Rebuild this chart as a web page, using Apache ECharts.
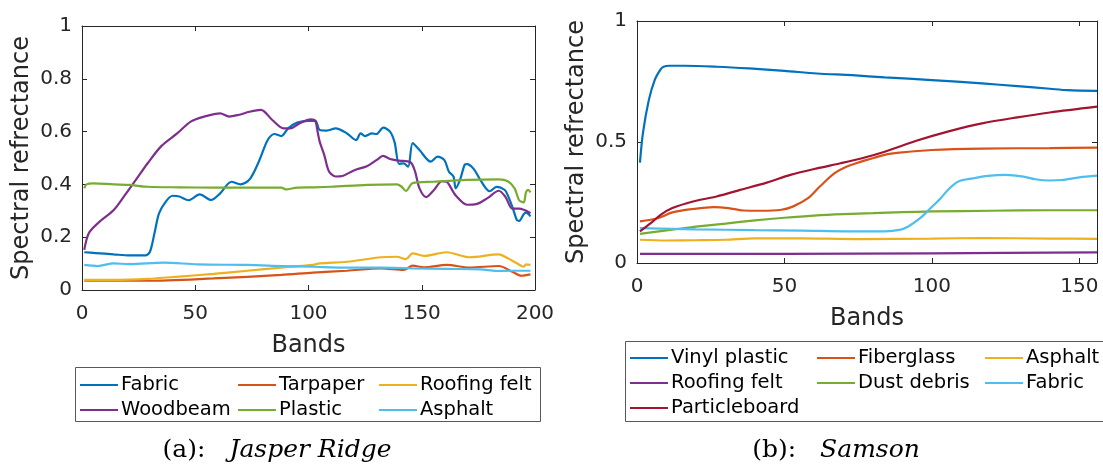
<!DOCTYPE html>
<html>
<head>
<meta charset="utf-8">
<script src="https://cdn.jsdelivr.net/npm/echarts@6/dist/echarts.min.js"></script>
<style>
  html, body { margin: 0; padding: 0; background: #ffffff; }
  #chart { width: 1103px; height: 466px; }
</style>
</head>
<body>
<div id="chart"></div>
<script>
// ---- Jasper Ridge endmember spectra: [band, reflectance] ----
const jasperFabric = [[1,0.143],[6,0.140],[14,0.135],[21,0.131],[28,0.131],[30,0.145],[32,0.215],[34,0.290],[37,0.335],[40,0.357],[43,0.354],[47,0.340],[52,0.362],[57,0.341],[61,0.366],[66,0.410],[70,0.400],[74,0.419],[78,0.485],[82,0.568],[85,0.591],[88,0.583],[91,0.612],[95,0.634],[100,0.641],[103,0.641],[105,0.606],[108,0.604],[112,0.612],[117,0.593],[121,0.568],[123,0.593],[125,0.583],[128,0.593],[130,0.591],[133,0.615],[136,0.600],[138,0.560],[140,0.478],[142,0.480],[144,0.467],[146,0.556],[149,0.530],[154,0.486],[157,0.505],[160,0.492],[162,0.448],[164,0.430],[165,0.385],[167,0.420],[169,0.475],[170,0.477],[173,0.458],[176,0.415],[180,0.374],[183,0.391],[185,0.387],[187,0.376],[190,0.315],[192,0.265],[193,0.262],[195,0.287],[196,0.293],[198,0.279]];
const jasperTarpaper = [[1,0.035],[29,0.035],[58,0.044],[88,0.057],[102,0.066],[117,0.073],[132,0.082],[142,0.076],[146,0.092],[151,0.086],[161,0.095],[171,0.085],[184,0.091],[190,0.069],[194,0.054],[198,0.059]];
const jasperRoofingFelt = [[1,0.038],[14,0.038],[29,0.042],[43,0.051],[58,0.061],[73,0.073],[88,0.085],[102,0.095],[105,0.101],[117,0.107],[132,0.124],[139,0.126],[143,0.117],[146,0.139],[151,0.129],[161,0.143],[171,0.124],[184,0.135],[188,0.120],[192,0.101],[195,0.088],[196,0.097],[198,0.095]];
const jasperWoodbeam = [[1,0.152],[3,0.215],[7,0.253],[14,0.303],[19,0.360],[24,0.420],[29,0.480],[35,0.545],[42,0.593],[48,0.638],[54,0.657],[61,0.669],[65,0.657],[69,0.663],[74,0.675],[79,0.682],[84,0.644],[89,0.612],[92,0.612],[96,0.631],[101,0.646],[103,0.640],[104,0.600],[105,0.560],[107,0.510],[109,0.450],[112,0.430],[115,0.432],[120,0.453],[126,0.470],[130,0.492],[133,0.508],[136,0.496],[140,0.490],[145,0.484],[147,0.450],[149,0.385],[152,0.352],[155,0.375],[159,0.412],[161,0.410],[162,0.400],[165,0.358],[170,0.323],[174,0.325],[179,0.348],[184,0.376],[187,0.352],[190,0.308],[193,0.308],[198,0.291]];
const jasperPlastic = [[1,0.385],[2,0.400],[5,0.404],[14,0.400],[21,0.398],[29,0.391],[43,0.389],[58,0.388],[73,0.388],[88,0.388],[90,0.381],[95,0.388],[102,0.389],[110,0.391],[126,0.398],[139,0.400],[141,0.392],[143,0.375],[146,0.405],[155,0.410],[170,0.417],[184,0.419],[188,0.412],[191,0.385],[193,0.340],[195,0.332],[196,0.370],[197,0.379],[198,0.370]];
const jasperAsphalt = [[1,0.095],[7,0.091],[14,0.101],[21,0.098],[36,0.104],[51,0.097],[73,0.095],[88,0.091],[102,0.088],[117,0.085],[132,0.085],[146,0.082],[161,0.080],[176,0.078],[183,0.072],[190,0.073],[198,0.073]];

// ---- Samson endmember spectra: [band, reflectance] ----
const samsonVinylPlastic = [[1,0.415],[2,0.536],[4,0.673],[6,0.756],[8,0.800],[9,0.811],[11,0.815],[16,0.815],[27,0.811],[38,0.804],[50,0.794],[61,0.783],[73,0.776],[84,0.767],[100,0.756],[117,0.742],[129,0.731],[140,0.720],[146,0.714],[156,0.711]];
const samsonFiberglass = [[1,0.172],[7,0.185],[12,0.209],[19,0.223],[26,0.231],[31,0.227],[36,0.217],[42,0.216],[49,0.220],[53,0.234],[58,0.268],[62,0.316],[67,0.371],[71,0.398],[76,0.419],[78,0.426],[84,0.447],[89,0.456],[100,0.467],[117,0.473],[140,0.475],[156,0.477]];
const samsonAsphalt = [[1,0.096],[10,0.093],[20,0.094],[30,0.096],[40,0.102],[55,0.102],[75,0.099],[100,0.101],[117,0.103],[140,0.101],[156,0.100]];
const samsonRoofingFelt = [[1,0.038],[50,0.038],[100,0.040],[156,0.044]];
const samsonDustDebris = [[1,0.120],[10,0.135],[20,0.150],[30,0.163],[40,0.176],[50,0.187],[60,0.196],[70,0.202],[80,0.206],[90,0.210],[100,0.213],[120,0.216],[140,0.218],[156,0.218]];
const samsonFabric = [[1,0.144],[20,0.139],[40,0.136],[56,0.134],[72,0.131],[84,0.131],[89,0.137],[92,0.151],[96,0.185],[99,0.220],[103,0.268],[106,0.309],[109,0.337],[114,0.350],[119,0.360],[125,0.364],[131,0.357],[135,0.346],[140,0.341],[144,0.343],[150,0.354],[156,0.361]];
const samsonParticleboard = [[1,0.131],[5,0.168],[8,0.199],[12,0.227],[19,0.254],[27,0.275],[35,0.302],[44,0.332],[52,0.364],[61,0.391],[69,0.412],[76,0.432],[84,0.460],[95,0.506],[106,0.545],[117,0.577],[129,0.602],[140,0.622],[156,0.646]];

// ---- labels ----
const jasperNames = ['Fabric', 'Tarpaper', 'Roofing felt', 'Woodbeam', 'Plastic', 'Asphalt'];
const samsonNames = ['Vinyl plastic', 'Fiberglass', 'Asphalt', 'Roofing felt', 'Dust debris', 'Fabric', 'Particleboard'];
const jasperTicksX = [0, 50, 100, 150, 200];
const jasperTicksY = [0, 0.2, 0.4, 0.6, 0.8, 1];
const samsonTicksX = [0, 50, 100, 150];
const samsonTicksY = [0, 0.5, 1];

const palette = ['#0072BD', '#D95319', '#EDB120', '#7E2F8E', '#77AC30', '#4DBEEE', '#A2142F'];

const SANS = 'DejaVu Sans';
const SERIF = 'DejaVu Serif';
const AXIS_COLOR = '#262626';

const jasperData = [jasperFabric, jasperTarpaper, jasperRoofingFelt, jasperWoodbeam, jasperPlastic, jasperAsphalt];
const samsonData = [samsonVinylPlastic, samsonFiberglass, samsonAsphalt, samsonRoofingFelt, samsonDustDebris, samsonFabric, samsonParticleboard];

function makeSeries(prefix, names, datas, axisIdx) {
  return names.map((n, i) => ({
    name: prefix + '|' + n,
    type: 'line',
    xAxisIndex: axisIdx,
    yAxisIndex: axisIdx,
    data: datas[i],
    symbol: 'none',
    smooth: 0.3,
    color: palette[i],
    lineStyle: { width: 2.2, color: palette[i] },
    emphasis: { disabled: true },
    z: 3
  }));
}

function boxAxes(gridIndex, xmax, xint, ymax, yint, xName, yName, xTicks, yTicks) {
  const tickCommon = { show: true, inside: true, length: 5, lineStyle: { color: AXIS_COLOR, width: 1 } };
  const lineCommon = { show: true, onZero: false, lineStyle: { color: AXIS_COLOR, width: 1 } };
  const labelStyle = { fontFamily: SANS, fontSize: 20, color: AXIS_COLOR };
  const xs = [
    {
      type: 'value', gridIndex, min: 0, max: xmax, interval: xint, position: 'bottom',
      axisLine: lineCommon, axisTick: tickCommon, splitLine: { show: false },
      axisLabel: Object.assign({ margin: 14, showMaxLabel: xmax === xTicks[xTicks.length - 1],
        formatter: v => (xTicks.indexOf(v) >= 0 ? String(v) : '') }, labelStyle),
      name: xName, nameLocation: 'middle', nameGap: 44,
      nameTextStyle: { fontFamily: SANS, fontSize: 24, color: AXIS_COLOR }
    },
    {
      type: 'value', gridIndex, min: 0, max: xmax, interval: xint, position: 'top',
      axisLine: lineCommon, axisTick: tickCommon, axisLabel: { show: false }, splitLine: { show: false }
    }
  ];
  const ys = [
    {
      type: 'value', gridIndex, min: 0, max: ymax, interval: yint, position: 'left',
      axisLine: lineCommon, axisTick: tickCommon, splitLine: { show: false },
      axisLabel: Object.assign({ margin: 10, formatter: v => {
        const r = +v.toFixed(2);
        return yTicks.indexOf(r) >= 0 ? String(r) : '';
      } }, labelStyle),
      name: yName, nameLocation: 'middle', nameGap: 48, nameRotate: 90,
      nameTextStyle: { fontFamily: SANS, fontSize: 24, color: AXIS_COLOR }
    },
    {
      type: 'value', gridIndex, min: 0, max: ymax, interval: yint, position: 'right',
      axisLine: lineCommon, axisTick: tickCommon, axisLabel: { show: false }, splitLine: { show: false }
    }
  ];
  return { xs, ys };
}

const left = boxAxes(0, 200, 50, 1, 0.2, 'Bands', 'Spectral refrectance', jasperTicksX, jasperTicksY);
const right = boxAxes(1, 156, 50, 1, 0.5, 'Bands', 'Spectral refrectance', samsonTicksX, samsonTicksY);

// series: axis indices 0 (left panel) and 2 (right panel)
const series = [
  ...makeSeries('Jasper Ridge', jasperNames, jasperData, 0),
  ...makeSeries('Samson', samsonNames, samsonData, 2)
];

// legend entries: [series name, line start x, row centre y]
const legendSpots = [
  ['Jasper Ridge|Fabric', 80, 387], ['Jasper Ridge|Tarpaper', 238, 387], ['Jasper Ridge|Roofing felt', 379, 387],
  ['Jasper Ridge|Woodbeam', 80, 412], ['Jasper Ridge|Plastic', 238, 412], ['Jasper Ridge|Asphalt', 379, 412],
  ['Samson|Vinyl plastic', 630, 360], ['Samson|Fiberglass', 817, 360], ['Samson|Asphalt', 985, 360],
  ['Samson|Roofing felt', 630, 385], ['Samson|Dust debris', 817, 385], ['Samson|Fabric', 985, 385],
  ['Samson|Particleboard', 630, 410]
];
const legends = legendSpots.map(([name, x, y]) => ({
  data: [name],
  left: x,
  top: y - 12,
  padding: 0,
  icon: 'rect',
  itemWidth: 38,
  itemHeight: 2.2,
  selectedMode: false,
  formatter: n => n.split('|')[1],
  textStyle: { fontFamily: SANS, fontSize: 19.5, color: '#000000', padding: [0, 0, 0, -2] }
}));

const captionRich = {
  n: { fontFamily: SERIF, fontSize: 25, fontWeight: 'normal', color: '#000000' },
  s: { width: 24 },
  i: { fontFamily: SERIF, fontSize: 25, fontWeight: 'normal', fontStyle: 'italic', color: '#000000' }
};

const option = {
  backgroundColor: '#ffffff',
  animation: false,
  grid: [
    { left: 82, top: 26, width: 453, height: 264, containLabel: false },
    { left: 637, top: 21, width: 460, height: 242, containLabel: false }
  ],
  xAxis: [...left.xs, ...right.xs].map((a, i) => Object.assign(a, { gridIndex: i < 2 ? 0 : 1 })),
  yAxis: [...left.ys, ...right.ys].map((a, i) => Object.assign(a, { gridIndex: i < 2 ? 0 : 1 })),
  series,
  legend: legends,
  title: [
    {
      text: '{n|(a):}{s|}{i|Jasper Ridge}',
      left: 277, top: 438, textAlign: 'center', padding: 0,
      textStyle: { fontWeight: 'normal', rich: captionRich }
    },
    {
      text: '{n|(b):}{s|}{i|Samson}',
      left: 836, top: 438, textAlign: 'center', padding: 0,
      textStyle: { fontWeight: 'normal', rich: captionRich }
    }
  ],
  graphic: [
    { type: 'rect', shape: { x: 75.5, y: 367.5, width: 465, height: 54 },
      style: { fill: 'none', stroke: '#595959', lineWidth: 1 }, z: 0, silent: true },
    { type: 'rect', shape: { x: 625.5, y: 341.5, width: 490, height: 80 },
      style: { fill: 'none', stroke: '#595959', lineWidth: 1 }, z: 0, silent: true }
  ]
};

const chart = echarts.init(document.getElementById('chart'), null, { renderer: 'canvas' });
chart.setOption(option);
</script>
</body>
</html>
